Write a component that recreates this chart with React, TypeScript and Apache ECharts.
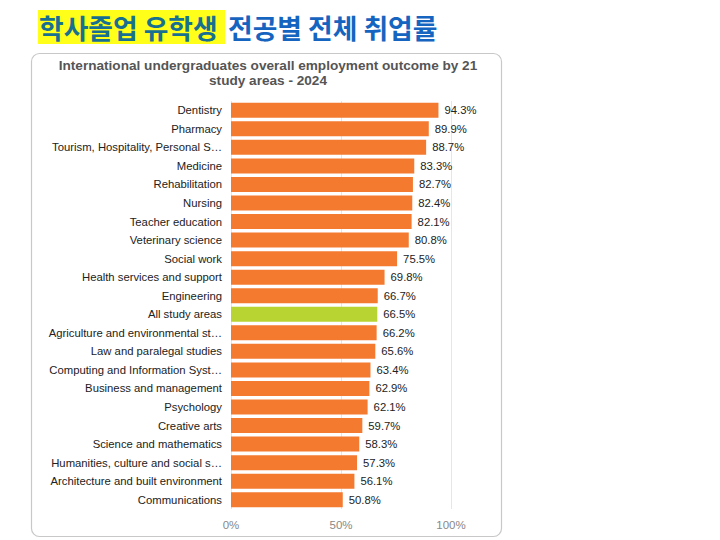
import React, { useEffect, useRef } from "react";
import * as echarts from "echarts";

const categories = [
  "Dentistry",
  "Pharmacy",
  "Tourism, Hospitality, Personal S…",
  "Medicine",
  "Rehabilitation",
  "Nursing",
  "Teacher education",
  "Veterinary science",
  "Social work",
  "Health services and support",
  "Engineering",
  "All study areas",
  "Agriculture and environmental st…",
  "Law and paralegal studies",
  "Computing and Information Syst…",
  "Business and management",
  "Psychology",
  "Creative arts",
  "Science and mathematics",
  "Humanities, culture and social s…",
  "Architecture and built environment",
  "Communications",
];

const values = [
  94.3, 89.9, 88.7, 83.3, 82.7, 82.4, 82.1, 80.8, 75.5, 69.8, 66.7, 66.5, 66.2,
  65.6, 63.4, 62.9, 62.1, 59.7, 58.3, 57.3, 56.1, 50.8,
];

const highlightCategory = "All study areas";
const xTicks = [0, 50, 100];

export default function App() {
  const ref = useRef<HTMLDivElement>(null);
  useEffect(() => {
    if (!ref.current) return;
    const chart = echarts.init(ref.current, undefined, { renderer: "svg" });
    const font = "Liberation Sans, Arial, sans-serif";
    chart.setOption({
      animation: false,
      backgroundColor: "#ffffff",
      graphic: [
        {
          type: "rect",
          shape: { x: 38, y: 10, width: 187, height: 34 },
          style: { fill: "#ffff1a" },
          z: 0,
        },
        {
          type: "text",
          x: 39,
          y: 27,
          style: {
            text: "학사졸업 유학생",
            fill: "#17708f",
            font: "bold 26.8px 'Noto Sans CJK KR', sans-serif",
            verticalAlign: "middle",
          },
          z: 1,
        },
        {
          type: "text",
          x: 228,
          y: 27,
          style: {
            text: "전공별 전체 취업률",
            fill: "#1565c0",
            font: "bold 26.8px 'Noto Sans CJK KR', sans-serif",
            verticalAlign: "middle",
          },
          z: 1,
        },
        {
          type: "rect",
          shape: { x: 31.5, y: 53.5, width: 470, height: 483, r: 8 },
          style: { fill: "none", stroke: "#c8c8c8", lineWidth: 1.2 },
          z: 0,
        },
        {
          type: "text",
          x: 268,
          y: 65.5,
          style: {
            text: "International undergraduates overall employment outcome by 21",
            fill: "#555555",
            font: `bold 13.6px ${font}`,
            align: "center",
            verticalAlign: "middle",
          },
        },
        {
          type: "text",
          x: 268,
          y: 80.5,
          style: {
            text: "study areas - 2024",
            fill: "#555555",
            font: `bold 13.6px ${font}`,
            align: "center",
            verticalAlign: "middle",
          },
        },
      ],
      grid: { left: 231, right: 269, top: 101, bottom: 31, containLabel: false },
      xAxis: {
        type: "value",
        min: 0,
        max: 100,
        interval: 50,
        axisLine: { show: false },
        axisTick: { show: false },
        splitLine: { lineStyle: { color: "#e6e6e6", width: 1 } },
        axisLabel: {
          formatter: (v: number) => (xTicks.includes(v) ? v + "%" : ""),
          color: "#888888",
          fontSize: 11.5,
          fontFamily: font,
          margin: 10,
        },
      },
      yAxis: {
        type: "category",
        data: categories,
        inverse: true,
        axisLine: { show: false },
        axisTick: { show: false },
        axisLabel: {
          color: "#222222",
          fontSize: 11.3,
          fontFamily: font,
          margin: 9,
        },
      },
      series: [
        {
          type: "bar",
          barWidth: 15,
          data: values.map((v, i) => ({
            value: v,
            itemStyle: {
              color: categories[i] === highlightCategory ? "#b8d433" : "#f47a30",
            },
          })),
          label: {
            show: true,
            position: "right",
            distance: 6,
            formatter: (p: any) => p.value.toFixed(1) + "%",
            color: "#222222",
            fontSize: 11.3,
            fontFamily: font,
          },
        },
      ],
    });
    return () => chart.dispose();
  }, []);
  return (
    <div
      ref={ref}
      style={{ position: "fixed", left: 0, top: 0, width: 720, height: 540 }}
    />
  );
}
